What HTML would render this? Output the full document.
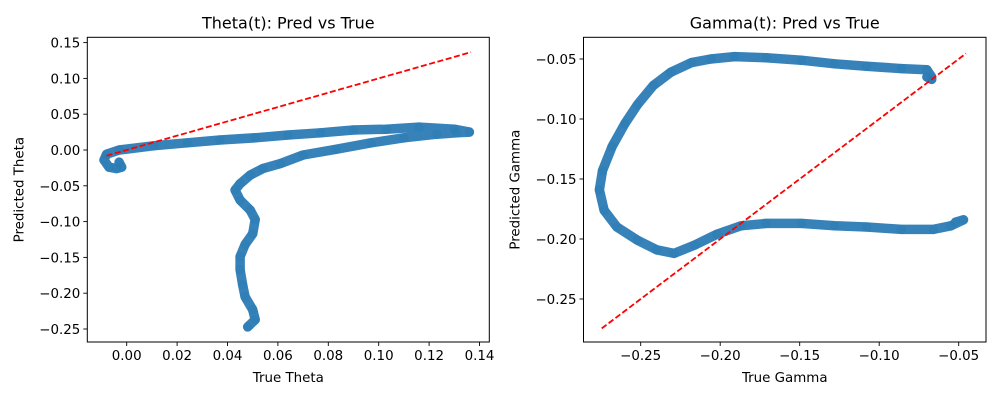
<!DOCTYPE html>
<html><head><meta charset="utf-8">
<style>
body{margin:0;background:#fff;}
svg{display:block;font-family:"DejaVu Sans","Liberation Sans",sans-serif;}
</style></head>
<body>
<svg id="fig" width="1000" height="400" xmlns="http://www.w3.org/2000/svg">
<rect width="1000" height="400" fill="#fff"/>
<g id="left"></g>
<g id="right"></g>
</svg>
<script>
// Theta chart data
const thetaTrue = [0.048,0.051,0.050,0.047,0.046,0.045,0.045,0.047,0.050,0.051,0.049,0.045,0.043,0.045,0.049,0.054,0.061,0.070,0.083,0.097,0.110,0.123,0.131,0.136,0.130,0.116,0.103,0.090,0.077,0.064,0.051,0.037,0.024,0.011,-0.003,-0.008,-0.009,-0.007,-0.004,-0.002,-0.003];
const thetaPred = [-0.247,-0.237,-0.223,-0.205,-0.188,-0.167,-0.149,-0.132,-0.117,-0.097,-0.084,-0.070,-0.056,-0.047,-0.035,-0.026,-0.019,-0.007,0.001,0.010,0.017,0.022,0.024,0.025,0.029,0.032,0.029,0.028,0.024,0.021,0.017,0.014,0.010,0.006,0.000,-0.006,-0.014,-0.024,-0.026,-0.024,-0.017];
const thetaXTicks = [0.00,0.02,0.04,0.06,0.08,0.10,0.12,0.14];
const thetaYTicks = [0.15,0.10,0.05,0.00,-0.05,-0.10,-0.15,-0.20,-0.25];
const thetaLine = [-0.008,0.1366];
// Gamma chart data
const gammaTrue = [-0.067,-0.070,-0.067,-0.070,-0.086,-0.108,-0.128,-0.149,-0.171,-0.191,-0.206,-0.218,-0.231,-0.242,-0.252,-0.260,-0.268,-0.274,-0.276,-0.273,-0.265,-0.252,-0.240,-0.229,-0.216,-0.202,-0.187,-0.171,-0.149,-0.128,-0.108,-0.086,-0.066,-0.055,-0.047,-0.052];
const gammaPred = [-0.067,-0.065,-0.065,-0.059,-0.058,-0.056,-0.054,-0.051,-0.049,-0.048,-0.050,-0.053,-0.061,-0.072,-0.088,-0.104,-0.123,-0.143,-0.159,-0.176,-0.190,-0.201,-0.209,-0.212,-0.205,-0.196,-0.189,-0.187,-0.187,-0.189,-0.190,-0.192,-0.192,-0.189,-0.184,-0.186];
const gammaXTicks = [-0.25,-0.20,-0.15,-0.10,-0.05];
const gammaYTicks = [-0.05,-0.10,-0.15,-0.20,-0.25];
const gammaLine = [-0.2745,-0.0454];

const NS='http://www.w3.org/2000/svg';
function mk(parent,tag,attrs){const e=document.createElementNS(NS,tag);for(const k in attrs)e.setAttribute(k,attrs[k]);parent.appendChild(e);return e;}
function fmt(v){const s=Math.abs(v).toFixed(2);return (v<0?'\u2212':'')+s;}

function drawChart(g,box,sx,sy,xs,ys,xt,yt,line,title,xl,yl){
  const [L,T,R,B]=box;
  const pts=xs.map((v,i)=>sx(v).toFixed(1)+','+sy(ys[i]).toFixed(1)).join(' ');
  const pl=mk(g,'polyline',{points:pts,fill:'none',stroke:'#2677b3','stroke-width':9.5,'stroke-linejoin':'round','stroke-linecap':'round','stroke-opacity':0.92});
  
  
  xs.forEach((v,i)=>{
    const c=mk(g,'circle',{cx:sx(v),cy:sy(ys[i]),r:4.8,fill:'#1f77b4','fill-opacity':0.25,stroke:'none'});
    
    
  });
  const rl=mk(g,'line',{x1:sx(line[0]),y1:sy(line[0]),x2:sx(line[1]),y2:sy(line[1]),stroke:'#ff0000','stroke-width':1.8,'stroke-dasharray':'6,2.6'});
  
  
  const fr=mk(g,'rect',{x:L,y:T,width:R-L,height:B-T,fill:'none',stroke:'#000','stroke-width':1});
  
  
  xt.forEach(v=>{
    const x=sx(v);
    mk(g,'line',{x1:x,y1:B,x2:x,y2:B+4,stroke:'#000','stroke-width':0.9});
    const t=mk(g,'text',{x:x,y:B+18,'text-anchor':'middle','font-size':'13.4px',fill:'#000'});
    t.textContent=fmt(v);
    
    
  });
  yt.forEach(v=>{
    const y=sy(v);
    mk(g,'line',{x1:L-4,y1:y,x2:L,y2:y,stroke:'#000','stroke-width':0.9});
    const t=mk(g,'text',{x:L-7,y:y+5,'text-anchor':'end','font-size':'13.4px',fill:'#000'});
    t.textContent=fmt(v);
    
    
  });
  const tt=mk(g,'text',{x:(L+R)/2,y:T-9,'text-anchor':'middle','font-size':'16px',fill:'#000'});
  tt.textContent=title;
  
  
  const xa=mk(g,'text',{x:(L+R)/2,y:382,'text-anchor':'middle','font-size':'13.4px',fill:'#000'});
  xa.textContent=xl;
  
  
  const yx=L-64, yy=(T+B)/2;
  const ya=mk(g,'text',{x:yx,y:yy,'text-anchor':'middle','font-size':'13.4px',fill:'#000',transform:'rotate(-90 '+yx+' '+yy+')'});
  ya.textContent=yl;
  
  
}

const lsx=v=>126.7+v*2520, lsy=v=>150-v*716;
drawChart(document.getElementById('left'),[87.3,37.3,489.3,342],lsx,lsy,thetaTrue,thetaPred,thetaXTicks,thetaYTicks,thetaLine,'Theta(t): Pred vs True','True Theta','Predicted Theta');
const rsx=v=>640.7+(v+0.25)*1590, rsy=v=>59+(-0.05-v)*1200;
drawChart(document.getElementById('right'),[583.5,37.3,986,342],rsx,rsy,gammaTrue,gammaPred,gammaXTicks,gammaYTicks,gammaLine,'Gamma(t): Pred vs True','True Gamma','Predicted Gamma');
</script>
</body></html>
